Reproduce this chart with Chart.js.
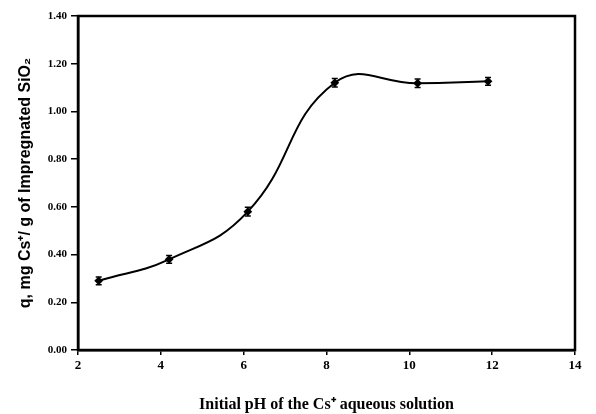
<!DOCTYPE html>
<html>
<head>
<meta charset="utf-8">
<script src="https://cdn.jsdelivr.net/npm/chart.js@4.4.1/dist/chart.umd.min.js"></script>
<style>
  html, body { margin: 0; padding: 0; background: #fff; }
  #wrap { width: 596px; height: 414px; }
</style>
</head>
<body>
<div id="wrap"><canvas id="chart" width="596" height="414"></canvas></div>
<script>
const phValues = [2.5, 4.2, 6.1, 8.2, 10.2, 11.9];
const uptake = [0.29, 0.38, 0.58, 1.12, 1.118, 1.126];
const uptakeErr = [0.016, 0.016, 0.018, 0.018, 0.018, 0.016];
const xTicks = [2, 4, 6, 8, 10, 12, 14];
const yTicks = [0, 0.2, 0.4, 0.6, 0.8, 1.0, 1.2, 1.4];

const serifBold = { family: "'Liberation Serif', 'Times New Roman', serif", weight: "bold" };
const sansBold = { family: "'Liberation Sans', Arial, sans-serif", weight: "bold" };

// error bars and the full frame around the plot
const errorBars = {
  id: "errorBars",
  afterDatasetsDraw(chart) {
    const { ctx, scales: { x, y } } = chart;
    ctx.save();
    ctx.strokeStyle = "#000";
    ctx.lineWidth = 1.5;
    phValues.forEach((ph, i) => {
      const px = x.getPixelForValue(ph);
      const top = y.getPixelForValue(uptake[i] + uptakeErr[i]);
      const bot = y.getPixelForValue(uptake[i] - uptakeErr[i]);
      ctx.beginPath();
      ctx.moveTo(px, top);
      ctx.lineTo(px, bot);
      ctx.moveTo(px - 3, top);
      ctx.lineTo(px + 3, top);
      ctx.moveTo(px - 3, bot);
      ctx.lineTo(px + 3, bot);
      ctx.stroke();
    });
    const a = chart.chartArea;
    ctx.lineWidth = 2.5;
    ctx.strokeRect(a.left, a.top, a.right - a.left, a.bottom - a.top);
    ctx.restore();
  },
};

new Chart(document.getElementById("chart"), {
  type: "line",
  data: {
    datasets: [
      {
        data: phValues.map((v, i) => ({ x: v, y: uptake[i] })),
        borderColor: "#000",
        backgroundColor: "#000",
        borderWidth: 2,
        tension: 0.45,
        pointStyle: "rectRot",
        pointRadius: 3,
        pointHoverRadius: 3,
        fill: false,
      },
    ],
  },
  options: {
    responsive: false,
    animation: false,
    layout: { padding: { left: 16, right: 21, top: 16, bottom: 0 } },
    plugins: { legend: { display: false }, tooltip: { enabled: false } },
    scales: {
      x: {
        type: "linear",
        min: 2,
        max: 14,
        afterBuildTicks: (s) => { s.ticks = xTicks.map((v) => ({ value: v })); },
        afterFit: (s) => { s.height = 64; },
        grid: { drawOnChartArea: false, drawTicks: true, tickLength: 5, color: "#000", lineWidth: 1.5 },
        border: { display: true, color: "#000", width: 2.5 },
        ticks: { color: "#000", font: { ...serifBold, size: 13 }, padding: 3, maxRotation: 0 },
        title: {
          display: true,
          text: "Initial pH of the Cs\u207A aqueous solution",
          color: "#000",
          font: { ...serifBold, size: 16 },
          padding: { top: 10, bottom: 0 },
        },
      },
      y: {
        min: 0,
        max: 1.4,
        afterBuildTicks: (s) => { s.ticks = yTicks.map((v) => ({ value: v })); },
        afterFit: (s) => { s.width = 62; },
        grid: { drawOnChartArea: false, drawTicks: true, tickLength: 7, color: "#000", lineWidth: 1.5 },
        border: { display: true, color: "#000", width: 2.5 },
        ticks: {
          color: "#000",
          font: { ...serifBold, size: 11 },
          padding: 4,
          callback: (v) => v.toFixed(2),
        },
        title: {
          display: true,
          text: "q, mg Cs\u207A/ g of Impregnated SiO\u2082",
          color: "#000",
          font: { ...sansBold, size: 16 },
          padding: { top: 0, bottom: 4 },
        },
      },
    },
  },
  plugins: [errorBars],
});
</script>
</body>
</html>
